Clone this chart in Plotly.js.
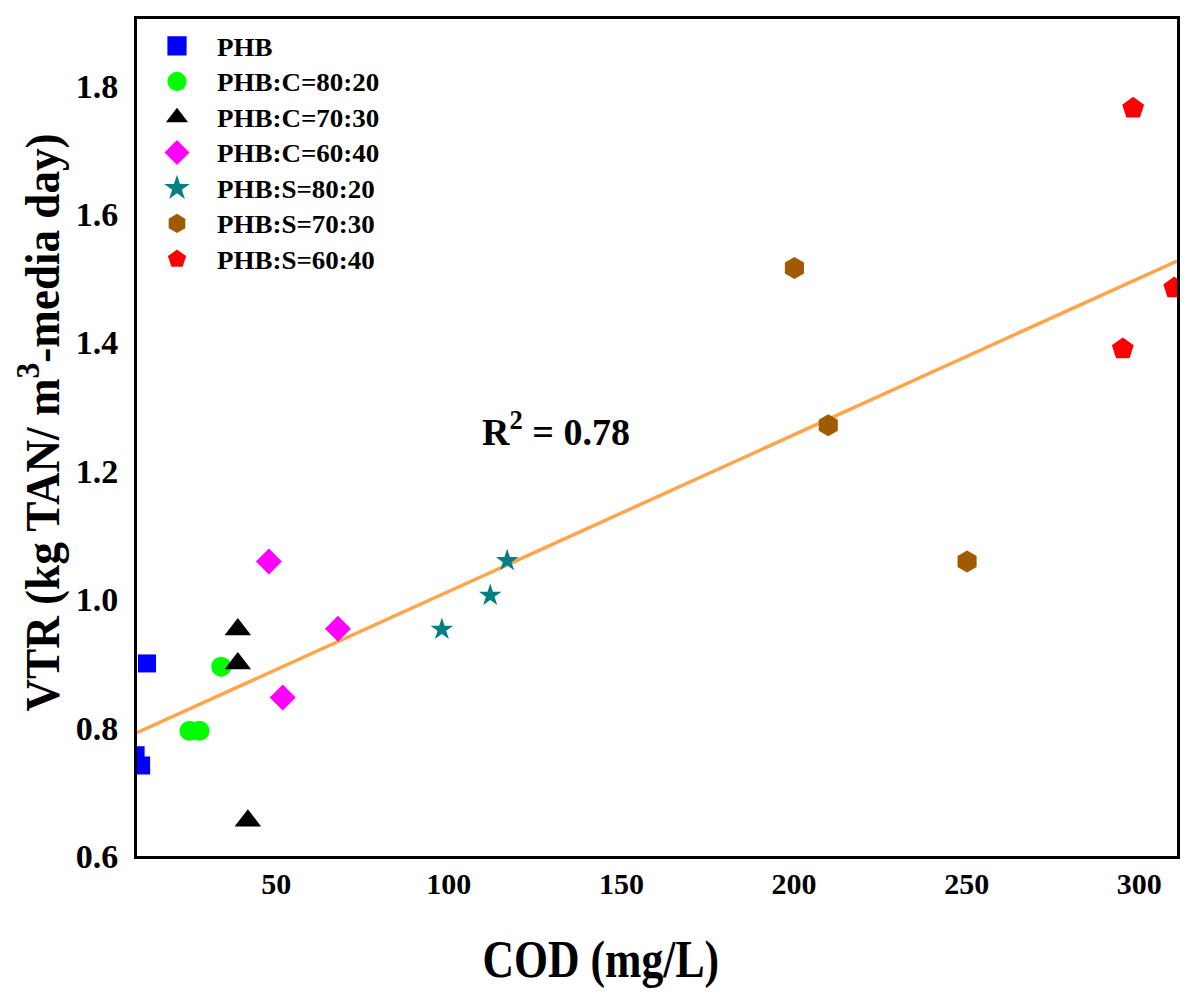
<!DOCTYPE html>
<html>
<head>
<meta charset="utf-8">
<script src="https://cdn.plot.ly/plotly-3.0.1.min.js"></script>
<style>
  html, body { margin: 0; padding: 0; background: #fff; }
  #chart { width: 1200px; height: 1004px; }
  /* the original titles are drawn narrower than normal Times */
  .annotation[data-index="0"] text { transform: scaleX(0.84); transform-box: fill-box; transform-origin: center; }
  .annotation[data-index="1"] text { transform: scaleX(0.94); transform-box: fill-box; transform-origin: center; }
  .legendtext { transform: scaleX(1.08); transform-box: fill-box; transform-origin: left center; }
  .legendpoints { transform: scale(1.2); transform-box: fill-box; transform-origin: center; }
</style>
</head>
<body>
<div id="chart"></div>
<script>
const phbX = [12.6, 9.3, 10.9];
const phbY = [0.900, 0.757, 0.741];

const c8020X = [34.1, 24.9, 27.8];
const c8020Y = [0.895, 0.795, 0.795];

const c7030X = [38.9, 38.9, 41.8];
const c7030Y = [0.953, 0.900, 0.655];

const c6040X = [47.9, 67.9, 51.9];
const c6040Y = [1.059, 0.954, 0.847];

const s8020X = [98.0, 112.0, 116.9];
const s8020Y = [0.953, 1.006, 1.060];

const s7030X = [200.1, 209.9, 250.1];
const s7030Y = [1.516, 1.271, 1.059];

const s6040X = [298.2, 310.1, 295.2];
const s6040Y = [1.765, 1.485, 1.390];

// Ausgleichsgerade (Endpunkte am Rahmen)
const trendX = [9.7, 310.9];
const trendY = [0.792, 1.527];

const seriesNames = [
  "PHB",
  "PHB:C=80:20",
  "PHB:C=70:30",
  "PHB:C=60:40",
  "PHB:S=80:20",
  "PHB:S=70:30",
  "PHB:S=60:40",
];

const xTicks = [50, 100, 150, 200, 250, 300];
const yTicks = [0.6, 0.8, 1.0, 1.2, 1.4, 1.6, 1.8];

const serif = "Liberation Serif, Times New Roman, serif";

function punkte(name, xs, ys, symbol, color, size) {
  return {
    type: "scatter",
    mode: "markers",
    name: name,
    x: xs,
    y: ys,
    marker: { symbol: symbol, color: color, size: size, line: { width: 0 } },
    cliponaxis: true,
    hoverinfo: "x+y",
  };
}

const traces = [
  {
    type: "scatter",
    mode: "lines",
    x: trendX,
    y: trendY,
    line: { color: "#FFA64D", width: 3.5 },
    showlegend: false,
    hoverinfo: "none",
  },
  punkte(seriesNames[0], phbX, phbY, "square", "#0000FF", 18),
  punkte(seriesNames[1], c8020X, c8020Y, "circle", "#00FF00", 20),
  punkte(seriesNames[2], c7030X, c7030Y, "triangle-up", "#000000", 23),
  punkte(seriesNames[3], c6040X, c6040Y, "diamond", "#FF00FF", 20),
  punkte(seriesNames[4], s8020X, s8020Y, "star", "#008080", 17),
  punkte(seriesNames[5], s7030X, s7030Y, "hexagon", "#A05A00", 22),
  punkte(seriesNames[6], s6040X, s6040Y, "pentagon", "#FF0000", 23),
];

const layout = {
  width: 1200,
  height: 1004,
  paper_bgcolor: "#ffffff",
  plot_bgcolor: "#ffffff",
  margin: { l: 137, r: 23, t: 19, b: 148 },
  showlegend: true,
  legend: {
    x: 0,
    y: 0.995,
    xanchor: "left",
    yanchor: "top",
    bgcolor: "rgba(0,0,0,0)",
    borderwidth: 0,
    itemwidth: 70,
    tracegroupgap: 0,
    font: { family: serif, size: 25, weight: "bold", color: "#000" },
  },
  xaxis: {
    range: [9.7, 310.9],
    tickvals: xTicks,
    ticks: "",
    showgrid: false,
    zeroline: false,
    showline: true,
    mirror: true,
    linecolor: "#000",
    linewidth: 3,
    ticklabelstandoff: -1,
    tickfont: { family: serif, size: 30, weight: "bold", color: "#000" },
  },
  yaxis: {
    range: [0.6, 1.904],
    tickvals: yTicks,
    tickformat: ".1f",
    ticks: "",
    showgrid: false,
    zeroline: false,
    showline: true,
    mirror: true,
    linecolor: "#000",
    linewidth: 3,
    ticklabelstandoff: 9,
    tickfont: { family: serif, size: 34, weight: "bold", color: "#000" },
  },
  annotations: [
    {
      // x-Achsentitel
      text: "COD (mg/L)",
      xref: "paper",
      yref: "paper",
      x: 0.446,
      y: -0.124,
      xanchor: "center",
      yanchor: "middle",
      showarrow: false,
      font: { family: serif, size: 52, weight: "bold", color: "#000" },
    },
    {
      // y-Achsentitel
      text: "VTR (kg TAN/ m<sup>3</sup>-media day)",
      xref: "paper",
      yref: "paper",
      x: -0.0943,
      y: 0.5185,
      xanchor: "center",
      yanchor: "middle",
      textangle: -90,
      showarrow: false,
      font: { family: serif, size: 48, weight: "bold", color: "#000" },
    },
    {
      text: "R<sup>2</sup> = 0.78",
      xref: "x",
      yref: "y",
      x: 131,
      y: 1.265,
      xanchor: "center",
      yanchor: "middle",
      showarrow: false,
      font: { family: serif, size: 38, weight: "bold", color: "#000" },
    },
  ],
};

Plotly.newPlot("chart", traces, layout, { staticPlot: true, responsive: false });
</script>
</body>
</html>
